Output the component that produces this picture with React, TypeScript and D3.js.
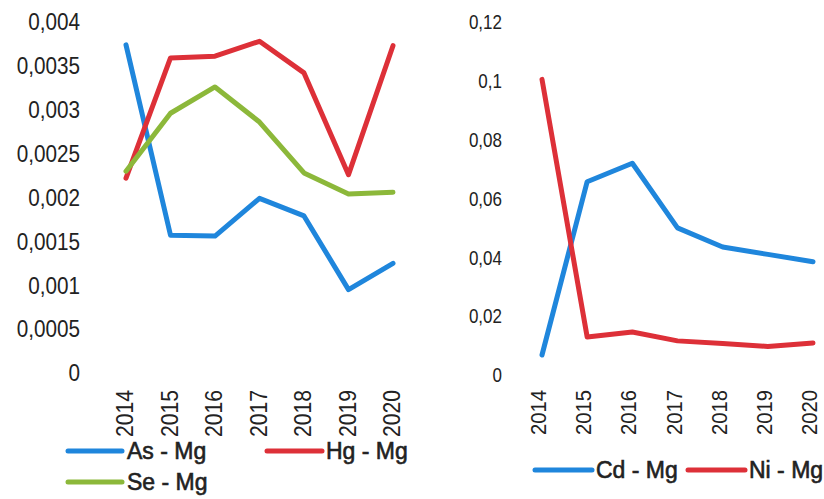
import React from "react";
import * as d3 from "d3";

const years = ["2014", "2015", "2016", "2017", "2018", "2019", "2020"];
const asMg = [0.00374, 0.00157, 0.00156, 0.00199, 0.00179, 0.00095, 0.00125];
const hgMg = [0.00222, 0.00359, 0.00361, 0.00378, 0.00342, 0.00226, 0.00373];
const seMg = [0.0023, 0.00296, 0.00326, 0.00286, 0.00228, 0.00204, 0.00206];
const leftTicks = [0, 0.0005, 0.001, 0.0015, 0.002, 0.0025, 0.003, 0.0035, 0.004];
const leftTickLabels = ["0", "0,0005", "0,001", "0,0015", "0,002", "0,0025", "0,003", "0,0035", "0,004"];

const cdMg = [0.0068, 0.0657, 0.072, 0.05, 0.0435, 0.041, 0.0385];
const niMg = [0.1005, 0.0129, 0.0146, 0.0116, 0.0107, 0.0097, 0.0109];
const rightTicks = [0, 0.02, 0.04, 0.06, 0.08, 0.1, 0.12];
const rightTickLabels = ["0", "0,02", "0,04", "0,06", "0,08", "0,1", "0,12"];

const BLUE = "#1f86dc";
const RED = "#dd3038";
const GREEN = "#8cb83a";
const TEXT = "#222";
const FONT = "'Liberation Sans', Arial, sans-serif";

export default function App() {
  const xL = d3.scalePoint<string>().domain(years).range([126, 393]);
  const yL = d3.scaleLinear().domain([0, 0.004]).range([373, 22]);
  const xR = d3.scalePoint<string>().domain(years).range([542, 813]);
  const yR = d3.scaleLinear().domain([0, 0.12]).range([375, 22]);

  const lineL = d3
    .line<number>()
    .x((_, i) => xL(years[i]) as number)
    .y((d) => yL(d));
  const lineR = d3
    .line<number>()
    .x((_, i) => xR(years[i]) as number)
    .y((d) => yR(d));

  const leftSeries = [
    { data: asMg, color: BLUE },
    { data: hgMg, color: RED },
    { data: seMg, color: GREEN },
  ];
  const rightSeries = [
    { data: cdMg, color: BLUE },
    { data: niMg, color: RED },
  ];

  const legendText = (x: number, y: number, label: string) => (
    <text
      x={x}
      y={y}
      dy="0.36em"
      fontSize={23}
      fontFamily={FONT}
      fill={TEXT}
      stroke={TEXT}
      strokeWidth={0.6}
    >
      {label}
    </text>
  );

  return (
    <svg
      width={824}
      height={499}
      style={{ position: "absolute", left: 0, top: 0, background: "#fff" }}
    >
      <rect x={0} y={0} width={824} height={499} fill="#fff" />
      {/* Left chart y ticks */}
      {leftTicks.map((t, i) => (
        <text
          key={"ly" + i}
          transform={`translate(80,${yL(t)}) scale(0.9,1)`}
          dy="0.36em"
          textAnchor="end"
          fontSize={23}
          fontFamily={FONT}
          fill={TEXT}
        >
          {leftTickLabels[i]}
        </text>
      ))}
      {/* Left x labels */}
      {years.map((y) => (
        <text
          key={"lx" + y}
          transform={`translate(${(xL(y) as number) - 1},390) rotate(-90) scale(0.92,1)`}
          dy="0.36em"
          textAnchor="end"
          fontSize={23}
          fontFamily={FONT}
          fill={TEXT}
        >
          {y}
        </text>
      ))}
      {leftSeries.map((s, i) => (
        <path
          key={"ls" + i}
          d={lineL(s.data) || ""}
          fill="none"
          stroke={s.color}
          strokeWidth={5}
          strokeLinejoin="round"
          strokeLinecap="round"
        />
      ))}
      {/* Left legend */}
      <line x1={68} x2={122} y1={451} y2={451} stroke={BLUE} strokeWidth={5} strokeLinecap="round" />
      {legendText(127, 451, "As - Mg")}
      <line x1={267} x2={322} y1={451} y2={451} stroke={RED} strokeWidth={5} strokeLinecap="round" />
      {legendText(326, 451, "Hg - Mg")}
      <line x1={68} x2={122} y1={482} y2={482} stroke={GREEN} strokeWidth={5} strokeLinecap="round" />
      {legendText(127, 482, "Se - Mg")}

      {/* Right chart y ticks */}
      {rightTicks.map((t, i) => (
        <text
          key={"ry" + i}
          transform={`translate(502,${yR(t)}) scale(0.85,1)`}
          dy="0.36em"
          textAnchor="end"
          fontSize={20}
          fontFamily={FONT}
          fill={TEXT}
        >
          {rightTickLabels[i]}
        </text>
      ))}
      {years.map((y) => (
        <text
          key={"rx" + y}
          transform={`translate(${(xR(y) as number) - 3},390) rotate(-90) scale(0.92,1)`}
          dy="0.32em"
          textAnchor="end"
          fontSize={22}
          fontFamily={FONT}
          fill={TEXT}
        >
          {y}
        </text>
      ))}
      {rightSeries.map((s, i) => (
        <path
          key={"rs" + i}
          d={lineR(s.data) || ""}
          fill="none"
          stroke={s.color}
          strokeWidth={5}
          strokeLinejoin="round"
          strokeLinecap="round"
        />
      ))}
      <line x1={535} x2={592} y1={470} y2={470} stroke={BLUE} strokeWidth={5} strokeLinecap="round" />
      {legendText(596, 470, "Cd - Mg")}
      <line x1={688} x2={745} y1={470} y2={470} stroke={RED} strokeWidth={5} strokeLinecap="round" />
      {legendText(749, 470, "Ni - Mg")}
    </svg>
  );
}
